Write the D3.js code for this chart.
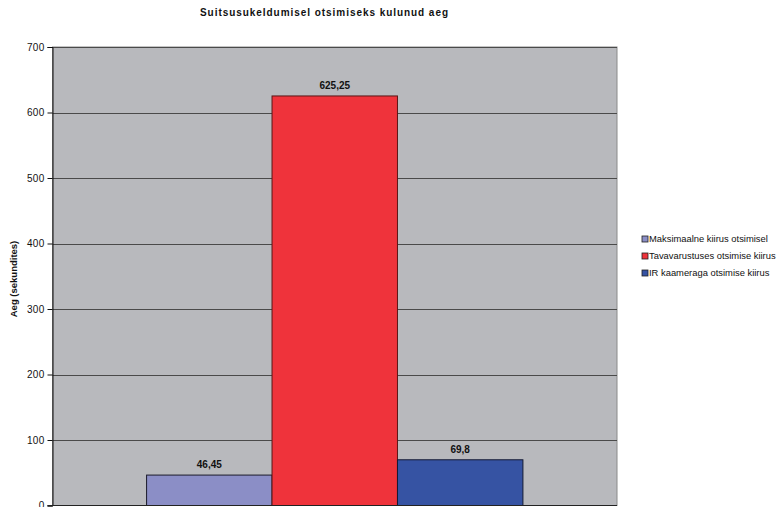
<!DOCTYPE html>
<html><head><meta charset="utf-8">
<script src="https://cdn.jsdelivr.net/npm/d3@7"></script>
<style>body{margin:0;background:#fff}svg{display:block;font-family:"Liberation Sans",Arial,sans-serif}</style>
</head><body><svg id="c" width="780" height="507"></svg>
<script>
const title = "Suitsusukeldumisel otsimiseks kulunud aeg";
const yTitle = "Aeg (sekundites)";
const seriesNames = ["Maksimaalne kiirus otsimisel","Tavavarustuses otsimise kiirus","IR kaameraga otsimise kiirus"];
const seriesValues = [46.45, 625.25, 69.8];
const valueLabels = ["46,45","625,25","69,8"];
const seriesColors = ["#8b8ec6","#ef333b","#3653a3"];
const seriesStroke = ["#1a1a2a","#5a1616","#141a33"];
const yTicks = [0,100,200,300,400,500,600,700];

const svg = d3.select("#c");
const L=52.5, R=617, T=47, B=505.5;
const y = d3.scaleLinear().domain([0,700]).range([B,T]);
const x = d3.scaleBand().domain(seriesNames).range([L,R]).paddingInner(0).paddingOuter(0.75);

svg.append("rect").attr("x",L).attr("y",T).attr("width",R-L).attr("height",B-T).attr("fill","#b8b9bd").attr("stroke","#8a8a8a").attr("stroke-width",1);
svg.append("g").selectAll("line").data(yTicks.slice(1)).join("line")
  .attr("x1",L).attr("x2",R).attr("y1",d=>Math.round(y(d))+0.5).attr("y2",d=>Math.round(y(d))+0.5)
  .attr("stroke","#4a4a4a").attr("stroke-width",1.2);

svg.append("g").selectAll("rect").data(seriesValues).join("rect")
  .attr("x",(d,i)=>x(seriesNames[i])).attr("width",x.bandwidth())
  .attr("y",d=>y(d)).attr("height",d=>B-y(d))
  .attr("fill",(d,i)=>seriesColors[i]).attr("stroke",(d,i)=>seriesStroke[i]).attr("stroke-width",1);

svg.append("g").selectAll("text").data(seriesValues).join("text")
  .attr("x",(d,i)=>x(seriesNames[i])+x.bandwidth()/2).attr("y",d=>y(d)-7)
  .attr("text-anchor","middle").attr("font-size",10).attr("font-weight","bold").attr("fill","#111")
  .text((d,i)=>valueLabels[i]);

const ax = svg.append("g").attr("transform",`translate(${L},0)`)
  .call(d3.axisLeft(y).tickValues(yTicks).tickSize(5).tickPadding(3).tickFormat(d3.format("d")));
ax.select(".domain").attr("stroke","#111");
ax.selectAll(".tick line").attr("stroke","#111");
ax.selectAll("text").attr("font-size",10).attr("letter-spacing",0.3).attr("font-family","'Liberation Sans',Arial,sans-serif").attr("fill","#111");
svg.append("line").attr("x1",L-5).attr("x2",R).attr("y1",B).attr("y2",B).attr("stroke","#222").attr("stroke-width",1.2);

svg.append("text").attr("x",200).attr("y",16).attr("font-size",10).attr("font-weight","bold").attr("fill","#111")
  .attr("textLength",248).attr("lengthAdjust","spacing").text(title);
svg.append("text").attr("transform","translate(17,279) rotate(-90)").attr("text-anchor","middle").attr("font-size",9.5).attr("font-weight","bold").attr("fill","#111").text(yTitle);

const lg = svg.append("g").selectAll("g").data(seriesNames).join("g")
  .attr("transform",(d,i)=>`translate(642,${239+i*17})`);
lg.append("rect").attr("x",0).attr("y",-3).attr("width",6).attr("height",6)
  .attr("fill",(d,i)=>seriesColors[i]).attr("stroke","#222").attr("stroke-width",0.8);
lg.append("text").attr("x",7).attr("y",3.4).attr("font-size",9.4).attr("fill","#111").text(d=>d);
</script></body></html>
